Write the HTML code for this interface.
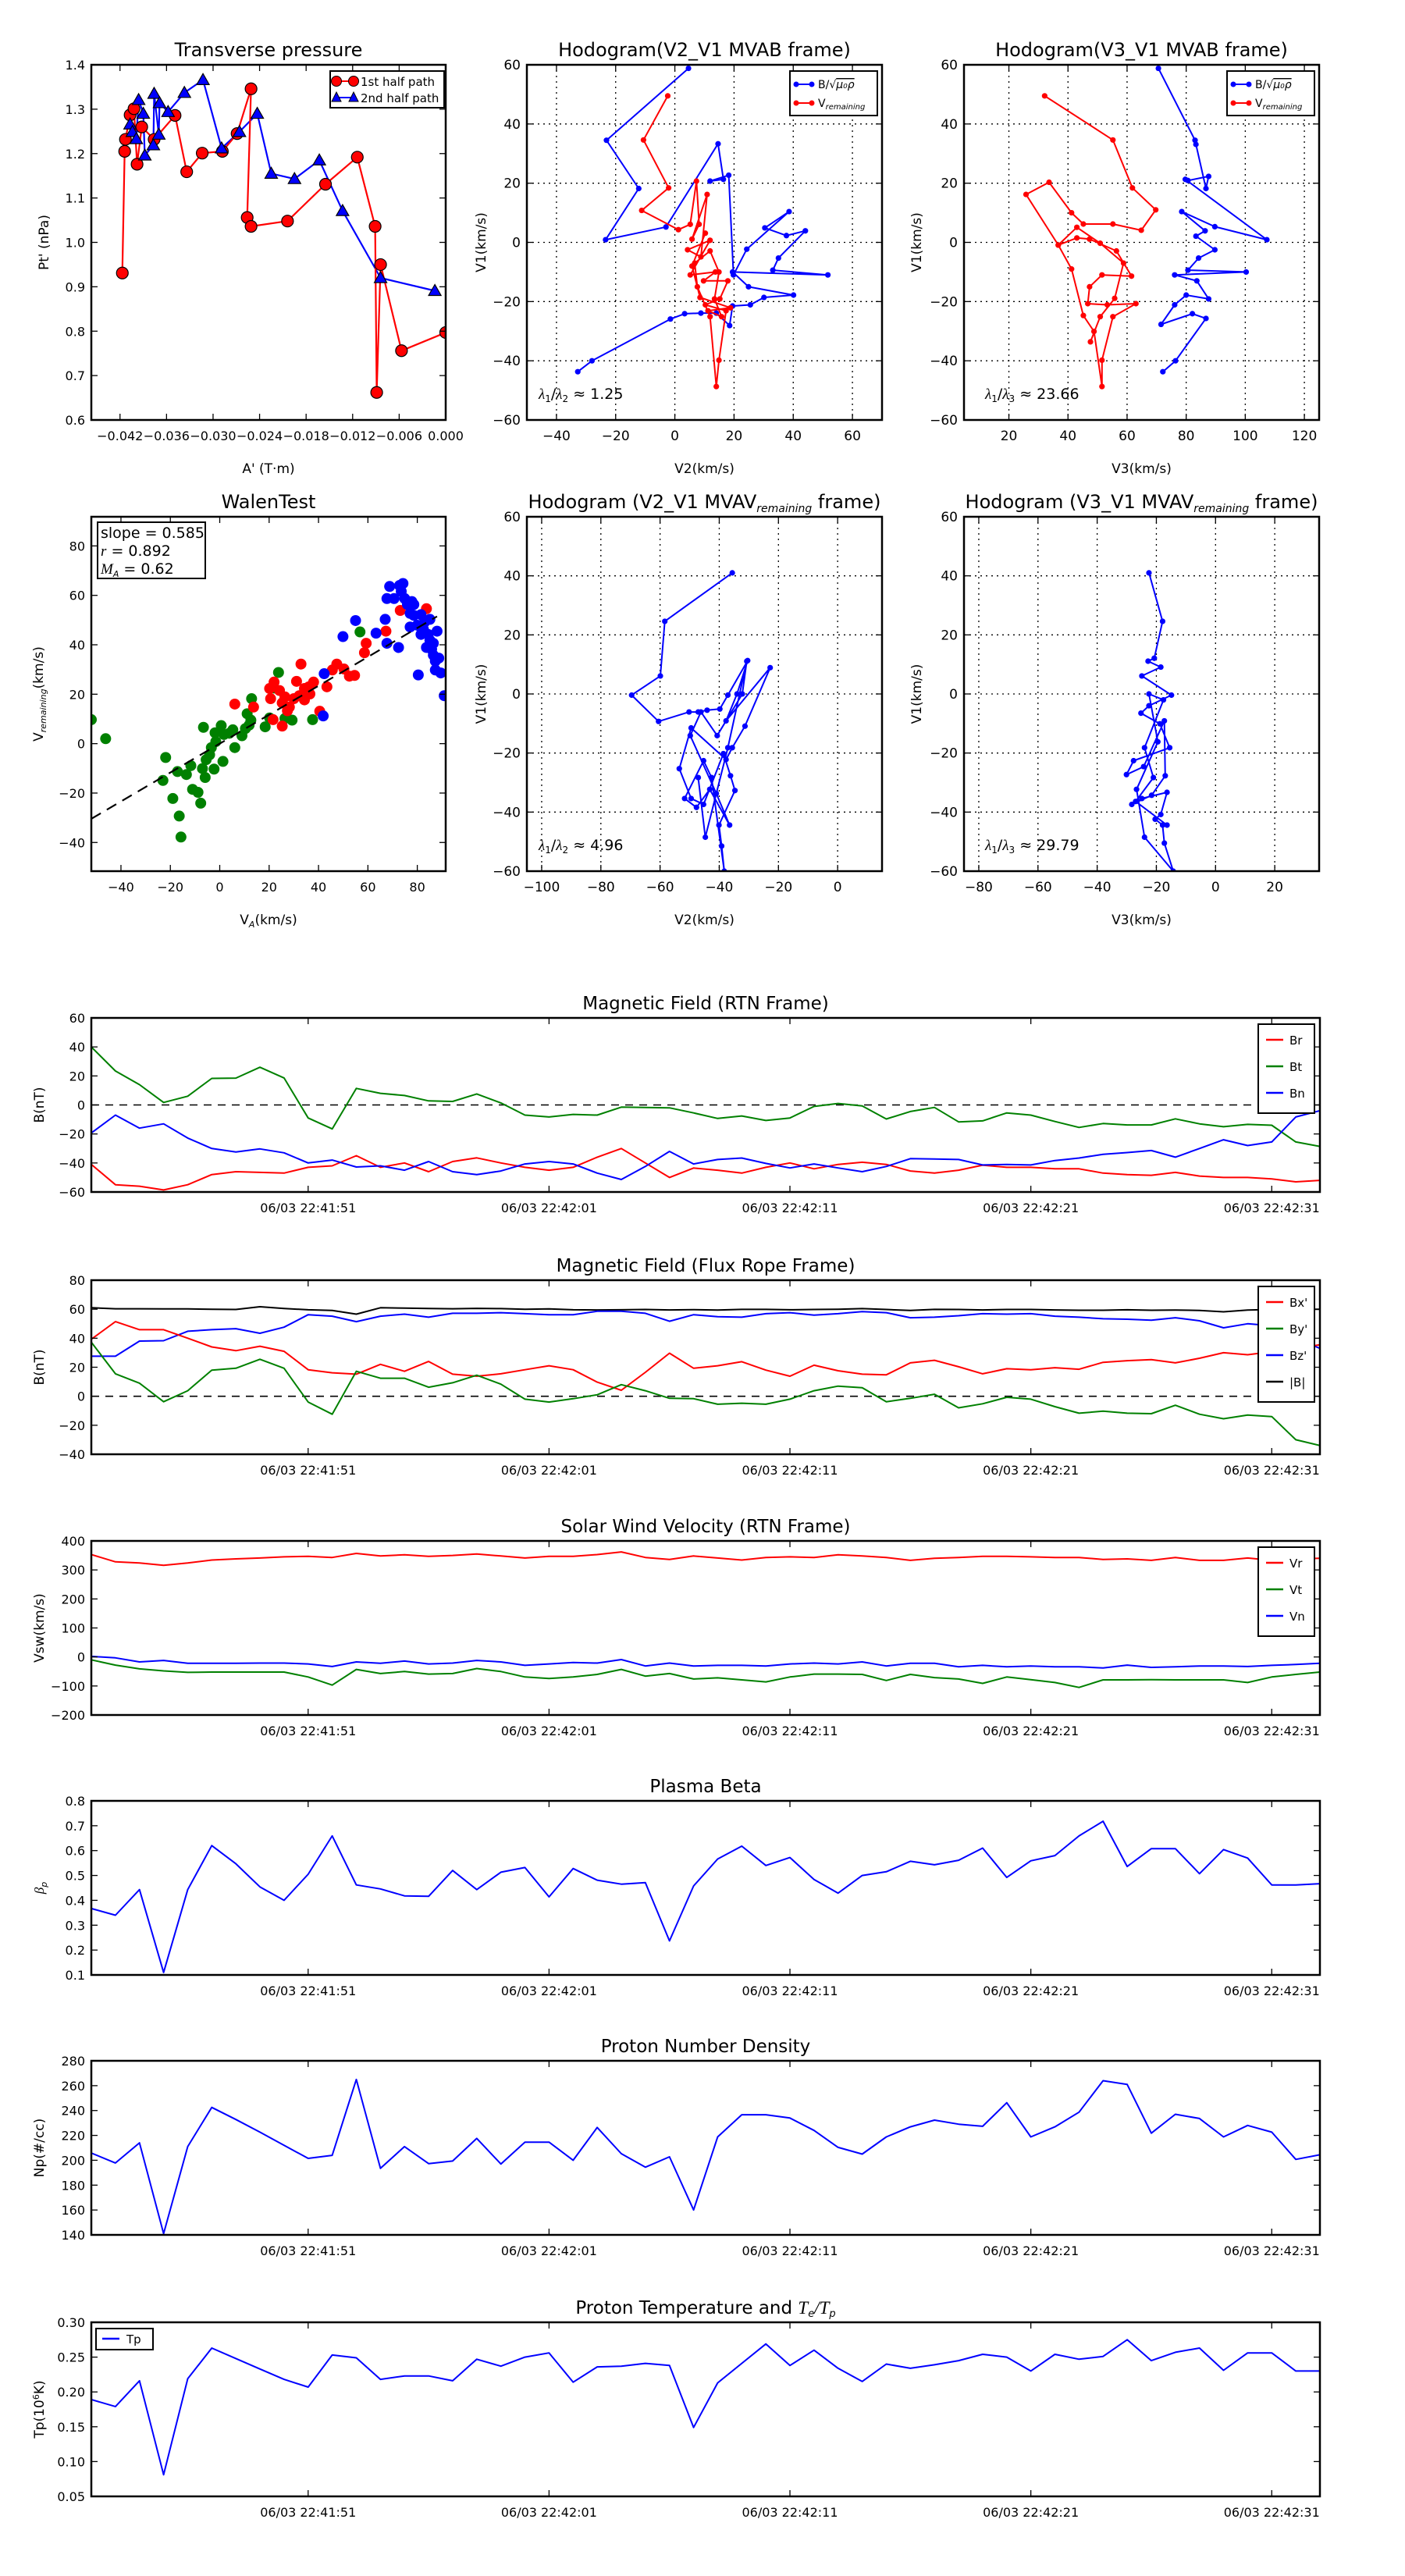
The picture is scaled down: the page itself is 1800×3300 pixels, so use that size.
<!DOCTYPE html>
<html><head><meta charset="utf-8"><title>Flux rope analysis</title>
<style>
html,body{margin:0;padding:0;background:#fff;}
svg{display:block;font-family:"DejaVu Sans","Liberation Sans",sans-serif;}
text{fill:#000;}
</style></head>
<body>
<svg id="fig" xmlns="http://www.w3.org/2000/svg" width="1800" height="3300" viewBox="0 0 1800 3300">
<rect x="0" y="0" width="1800" height="3300" fill="#fff"/>
</svg>
<script>
// ---------- Transverse pressure ----------
const ptRedA=[-0.0417,-0.0414,-0.0413,-0.0407,-0.0402,-0.0398,-0.0392,-0.0376,-0.0349,-0.0334,-0.0314,-0.0288,-0.0269,-0.0251,-0.0256,-0.0251,-0.0204,-0.0155,-0.0114,-0.0091,-0.0089,-0.0084,-0.0057,0.0000];
const ptRedP=[0.931,1.205,1.232,1.287,1.301,1.176,1.260,1.232,1.286,1.159,1.201,1.205,1.245,1.346,1.056,1.036,1.048,1.131,1.192,1.036,0.662,0.950,0.756,0.797];
const ptBlueA=[-0.0407,-0.0404,-0.0399,-0.0396,-0.0390,-0.0388,-0.0377,-0.0376,-0.0370,-0.0369,-0.0358,-0.0337,-0.0313,-0.0289,-0.0266,-0.0243,-0.0225,-0.0195,-0.0163,-0.0133,-0.0084,-0.0014];
const ptBlueP=[1.266,1.249,1.233,1.321,1.290,1.196,1.219,1.335,1.243,1.314,1.294,1.337,1.366,1.212,1.249,1.290,1.155,1.143,1.185,1.071,0.920,0.891];
const ptXTicks=[-0.042,-0.036,-0.030,-0.024,-0.018,-0.012,-0.006,0.000];
const ptYTicks=[0.6,0.7,0.8,0.9,1.0,1.1,1.2,1.3,1.4];
// ---------- Hodogram V2_V1 MVAB ----------
const h1BlueX=[4.6,-23.1,-12.2,-23.4,-3,14.6,16.4,11.9,18.2,19.8,24.3,38.6,30.4,37.7,44.1,35,33.1,51.7,19.5,24.9,40.1,30.1,25.5,19.5,18.5,14,8.8,3.3,-1.5,-28,-32.8];
const h1BlueY=[58.8,34.5,18.2,0.9,5.2,33.3,21.3,20.7,22.7,-11,-2.3,10.4,4.9,2.3,3.9,-5.3,-9.4,-11,-10,-15,-17.8,-18.6,-21.1,-21.5,-28.1,-23.9,-23.9,-24.1,-25.9,-40,-43.7];
const h1RedX=[-2.4,-10.6,-2.1,-11.2,1.2,5.2,7.3,8.2,5.8,10.9,8.8,4.3,11.9,5.2,13.7,9.7,17.9,15.2,10.3,17.3,14.9,14,11.9,7.6,6.7,11.9,14.9,13.4,15.8,11.2,18.8,8.5,5.8,10.3];
const h1RedY=[49.5,34.6,18.4,10.8,4.3,6.1,20.7,6.1,1.1,16.2,-4.9,-2.5,0.7,-11,-10,-13,-13,-19.1,-21.1,-23.1,-39.8,-48.7,-25.1,-15,-7,-2.9,-10,-19.1,-25.1,-23.1,-22.1,-18.6,-8,3.1];
// ---------- Hodogram V3_V1 MVAB ----------
const h2BlueX=[70.6,83,83.3,86.7,87.6,80.6,79.7,107.3,89.7,78.5,86.4,83.3,89.7,84.2,80.6,100.3,76.1,83.6,87.6,80,76.1,71.5,82.1,86.7,76.4,72.1];
const h2BlueY=[58.8,34.5,33.1,18.2,22.3,20.9,21.3,0.9,5.3,10.4,3.9,2.1,-2.5,-5.3,-9.4,-10,-11,-13,-19.1,-17.8,-21.1,-27.7,-24.1,-25.7,-40,-43.7];
const h2RedX=[32.1,55.2,61.8,69.7,64.8,55.2,45.2,41.2,33.6,25.8,36.7,43,47.3,56.4,61.5,51.5,47.3,46.7,53.3,63,55.2,51.5,51.5,48.8,45.2,41.2,36.7,43,50.9,58.8,55.8,50.9,47.6];
const h2RedY=[49.5,34.6,18.4,11,4.1,6.2,6.2,10,20.3,16.2,-0.9,1.5,1.1,-2.9,-11.4,-11,-15,-20.7,-21.1,-20.7,-25.1,-39.8,-48.7,-30.1,-24.7,-9,-0.9,5.1,-0.3,-7,-18.9,-25.1,-33.6];
// ---------- Walen test ----------
const walGreenX=[-52,-46.2,-21.9,-23,-19,-16.4,-15.7,-17.1,-13.5,-11.7,-11,-8.8,-7.7,-7,-5.9,-5.5,-4.1,-3.4,-2.3,-1.6,-1.9,1.3,1.7,3.9,6.1,5.3,9,10.4,11.1,12.9,11.9,12.6,18.4,20.2,23.8,26.4,29.3,37.6,22,56.8,-6.6,0.6];
const walGreenY=[9.7,2,-5.6,-14.9,-22.2,-29.3,-37.8,-11.3,-12.5,-8.9,-18.5,-19.7,-24.1,-10.1,-13.7,-6.5,-4.5,-1.6,-10.3,0.8,4.4,-7.2,3.7,4.2,-1.6,5.6,3.2,6.1,12.1,18.2,7.5,9.5,6.8,10.4,28.8,10.2,9.5,9.7,22.5,45.2,6.6,7.3];
const walRedX=[6.1,13.7,20.2,20.6,22,24.2,25.3,26.4,27.4,28.2,30,31.1,32.2,32.9,34.3,36.1,38,40.5,43.4,45.6,47.4,50.3,52.5,54.6,58.6,59.3,67.3,73.1,83.7,21.6,25.3,34.3,36.5];
const walRedY=[16,14.8,22.3,18.2,24.9,21.5,16.5,18.9,13.3,14.8,18.2,25.2,19.4,32.2,22.3,23,24.9,13.1,23,29.8,32.2,30.2,27.3,27.6,36.8,40.6,45.5,53.9,54.6,9.7,7.1,17.7,20.1];
const walBlueX=[42.3,41.9,49.9,55,63.3,67,67.7,72.4,72.8,73.5,74.9,76,77.1,77.8,78.6,80,81.5,82.5,84.4,85.1,85.8,86.5,87.3,88,88.7,89.5,87.3,80.4,90.9,77.1,70.6,67.7,78.6,81.5,82.9,85.1,68.8,74.2,83.7,86.5];
const walBlueY=[28.3,11.2,43.3,49.8,44.7,50.3,40.6,38.9,64,61.6,58.7,56.3,52.7,57.5,51.9,47.9,44.2,46.2,44.2,41.8,38.2,35.8,33.4,45.5,34.6,28.6,29.8,27.8,19.4,47.2,58.7,58.7,56.3,52.2,49.1,50.3,63.6,64.8,38.9,40.6];
const walFit=[0.585,0.0];
const walFitRange=[-52,88];
// ---------- Hodogram V2_V1 MVAV ----------
const h3X=[-35.6,-58.4,-59.9,-69.6,-60.5,-50.2,-47.1,-44.1,-39.8,-37.1,-30.4,-34,-37.7,-22.8,-31.3,-35.6,-37.7,-49.5,-53.5,-49.5,-45.3,-38.6,-36.2,-34.7,-40.1,-39.2,-38.3,-42.6,-45.3,-51.7,-47.7,-43.2,-36.5,-41,-49.8,-46.2,-40.7,-32.2,-30.7,-37.1,-44.7,-47.1];
const h3Y=[41,24.6,6.1,-0.4,-9.3,-6.1,-6.1,-5.5,-5.1,-0.4,11.3,0,-9.1,8.9,-10.9,-18.2,-22.2,-11.5,-25.3,-35.4,-37.4,-20.2,-27.7,-32.7,-44.4,-51.5,-60,-28.3,-22.6,-35.4,-38.4,-32.3,-44.4,-33.7,-14.1,-6.1,-14.1,0,11.1,-18.2,-48.5,-28.3];
// ---------- Hodogram V3_V1 MVAV ----------
const h4X=[-22.5,-17.9,-20.7,-22.8,-18.5,-24.9,-14.9,-22.5,-25.2,-18.8,-15.5,-27.7,-30.1,-24.3,-17.3,-17,-21.6,-28.3,-24.9,-16.4,-18.5,-20.4,-17.9,-17.3,-14.3,-24,-26.7,-19.5,-22.5,-17.6,-24,-21,-27,-16.4];
const h4Y=[41,24.6,12.1,11.1,9.1,6.1,-0.4,-4,-6.5,-10.1,-18.2,-22.6,-27.3,-24.6,-9.1,-27.7,-34.3,-37.4,-35.4,-33.3,-40.8,-42.4,-44.4,-50.5,-60,-48.5,-32.3,-16.2,0,-2,-18.2,-28.3,-36.4,-44.4];
// ---------- Time series ----------
const tsTime=[0,1,2,3,4,5,6,7,8,9,10,11,12,13,14,15,16,17,18,19,20,21,22,23,24,25,26,27,28,29,30,31,32,33,34,35,36,37,38,39,40,41,42,43,44,45,46,47,48,49,50,51];
const tsTickTimes=[9,19,29,39,49];
const tsTickLabels=["06/03 22:41:51","06/03 22:42:01","06/03 22:42:11","06/03 22:42:21","06/03 22:42:31"];
const Br=[-41,-55,-56,-58.6,-55,-48,-46,-46.5,-47,-43,-42,-35,-43,-40,-46,-39,-36.5,-40,-43,-45,-43,-36,-30,-40,-50,-43.5,-45,-47,-43,-40,-44,-41,-39.5,-41,-45.5,-47,-45,-41.5,-43,-43,-44,-44,-47,-48,-48.5,-46.5,-49,-50,-50,-51,-53,-52];
const Bt=[40,23.4,14,1.7,6,18.3,18.5,26,18.6,-9,-16.5,11.4,8,6.5,2.8,2.4,7.6,1.4,-7,-8.3,-6.5,-7,-1.5,-1.7,-2,-5.5,-9.3,-7.6,-10.7,-9,-1,1,-0.7,-9.7,-4.5,-1.7,-11.7,-11,-5.5,-7,-11.4,-15.5,-12.8,-13.8,-13.8,-9.6,-13,-15,-13.4,-14,-25.5,-28.6];
const Bn=[-19.3,-7,-16,-13,-22.8,-30,-32.4,-30.3,-33,-40,-38,-42.8,-42,-45,-39,-46,-48,-45.5,-40.7,-39,-40.7,-47,-51.4,-42.4,-32,-40.7,-37.6,-36.6,-40.3,-43.4,-40.7,-43.4,-46,-42.4,-37,-37.3,-37.6,-41.4,-41,-41.4,-38.3,-36.6,-34,-32.8,-31.4,-36,-30,-24,-28,-25.5,-8.3,-4];
const Bxp=[39.3,51.4,45.9,45.9,40,34,31.4,34.5,31,18.3,16.2,15.2,22,17.2,24,15.2,13.8,15.5,18.3,21,18.3,9.7,4.1,16.5,29.7,19.3,21,23.8,18,13.8,21.4,17.6,15.2,14.8,23,24.8,20.3,15.5,19,18.3,19.7,18.6,23.4,24.5,25.2,23,26.2,30,28.6,30.7,33,35.5];
const Byp=[37.2,15.5,9,-3.8,3.8,18,19.3,25.5,19.3,-4,-12.4,17.2,12.4,12.4,6.2,9.3,14.5,8.3,-2,-4,-1.7,1,8,3.8,-1.4,-1.7,-5.5,-4.8,-5.5,-2,3.8,7,5.9,-3.8,-1.4,1.4,-8,-5.2,-0.7,-2,-7.2,-11.7,-10.3,-11.7,-12,-6.2,-12.4,-15.5,-13,-14,-30,-34];
const Bzp=[27.6,27.6,38,38.3,44.8,45.9,46.6,43.4,47.6,56.2,55.2,51.4,55.2,56.6,54.5,57.2,57.2,57.6,56.9,56.2,56.2,58.6,58.6,57.2,51.7,56.2,54.8,54.5,56.9,57.6,55.9,56.9,58.3,57.6,54.1,54.5,55.5,56.9,56.6,56.9,55.2,54.5,53.4,53.1,52.4,54.1,52,47.2,50,48.6,40,33];
const Bmag=[61,60.3,60.3,60.2,60.2,60,59.8,61.7,60.5,59.6,59.2,56.6,61,60.8,60.5,60.3,60.6,60.4,60,60.2,59.6,59.5,59.6,59.8,59.5,59.7,59.4,59.9,59.9,59.6,59.8,60,60.4,59.8,59.1,59.9,59.8,59.5,59.8,59.8,59.5,59.3,59.3,59.6,59.3,59.4,59.2,58.2,59.4,59.8,60,60];
const Vr=[353,328,324,316,324,334,338,341,345,347,343,357,348,352,347,350,355,348,341,347,347,353,362,343,336,348,341,334,343,345,343,352,348,343,333,340,343,347,347,345,343,343,336,338,333,343,333,333,341,333,338,340];
const Vt=[-10,-28,-41,-48,-53,-52,-52,-52,-52,-69,-97,-43,-57,-50,-59,-57,-40,-50,-69,-74,-69,-60,-43,-66,-57,-76,-72,-79,-86,-69,-59,-59,-60,-81,-60,-71,-76,-91,-69,-78,-88,-105,-79,-79,-78,-79,-79,-79,-88,-69,-60,-52];
const Vn=[2,-3,-17,-12,-22,-22,-22,-21,-21,-24,-33,-17,-22,-14,-24,-21,-12,-17,-29,-24,-19,-21,-9,-31,-21,-31,-29,-29,-31,-24,-21,-24,-17,-31,-22,-22,-34,-29,-34,-31,-34,-34,-38,-28,-36,-34,-31,-31,-33,-29,-26,-22];
const betaP=[0.367,0.34,0.443,0.11,0.443,0.62,0.547,0.454,0.40,0.505,0.659,0.462,0.446,0.418,0.416,0.52,0.443,0.513,0.532,0.414,0.528,0.481,0.465,0.471,0.237,0.458,0.566,0.618,0.54,0.572,0.484,0.429,0.50,0.515,0.557,0.543,0.561,0.61,0.492,0.559,0.58,0.659,0.718,0.536,0.608,0.608,0.507,0.604,0.57,0.462,0.462,0.467];
const Np=[205.8,197.8,214,141,211,242.5,232.8,222.6,212,201.5,204,265,193.5,211,197.3,199.4,217.6,197,214.6,214.6,200,226.4,205.3,194.4,202.8,160,218.8,236.6,236.6,234,224,210.4,205,218.8,226.9,232.3,229,227.3,246.3,218.8,226.9,238.7,264,261,221.8,237,233.6,218.8,228,222.6,200.7,204.5];
const Tp=[0.189,0.179,0.216,0.081,0.219,0.263,0.248,0.233,0.218,0.207,0.253,0.249,0.218,0.223,0.223,0.216,0.247,0.237,0.250,0.256,0.214,0.236,0.237,0.241,0.238,0.149,0.213,0.241,0.269,0.238,0.260,0.234,0.215,0.240,0.234,0.239,0.245,0.254,0.250,0.230,0.254,0.247,0.251,0.275,0.245,0.257,0.263,0.231,0.256,0.256,0.230,0.230];

const NS='http://www.w3.org/2000/svg';
const svg=document.getElementById('fig');
function mk(tag,attrs,parent){const e=document.createElementNS(NS,tag);for(const k in attrs)e.setAttribute(k,attrs[k]);(parent||svg).appendChild(e);return e;}
function txt(s,x,y,size,anchor,parent){const t=mk('text',{x:x,y:y,'font-size':size,'text-anchor':anchor||'middle'},parent);t.textContent=s;return t;}
function fmtMinus(s){return String(s).replace('-','\u2212');}
let clipN=0;

function axes(c){
  const g=mk('g',{});
  
  
  const sx=v=>c.x0+(v-c.xmin)/(c.xmax-c.xmin)*(c.x1-c.x0);
  const sy=v=>c.y1-(v-c.ymin)/(c.ymax-c.ymin)*(c.y1-c.y0);
  const id='clip'+(clipN++);
  const cp=mk('clipPath',{id:id},g);
  mk('rect',{x:c.x0,y:c.y0,width:c.x1-c.x0,height:c.y1-c.y0},cp);
  // grid
  if(c.grid){
    c.xticks.forEach(v=>{const l=mk('line',{x1:sx(v),x2:sx(v),y1:c.y0,y2:c.y1,stroke:'#000','stroke-width':1.3,'stroke-dasharray':'2,5'},g);
      
      });
    c.yticks.forEach(v=>{const l=mk('line',{x1:c.x0,x2:c.x1,y1:sy(v),y2:sy(v),stroke:'#000','stroke-width':1.3,'stroke-dasharray':'2,5'},g);
      
      });
  }
  const plot=mk('g',{'clip-path':'url(#'+id+')'},g);
  
  
  // ticks
  const tg=mk('g',{stroke:'#000','stroke-width':1.3},g);
  c.xticks.forEach((v,i)=>{
    const x=sx(v);
    mk('line',{x1:x,x2:x,y1:c.y1,y2:c.y1-8},tg);mk('line',{x1:x,x2:x,y1:c.y0,y2:c.y0+8},tg);
    const t=txt(c.xlabels[i],x,c.y1+26,c.tickSize||17,'middle',g);
    
    
  });
  c.yticks.forEach((v,i)=>{
    const y=sy(v);
    mk('line',{x1:c.x0,x2:c.x0+8,y1:y,y2:y},tg);mk('line',{x1:c.x1,x2:c.x1-8,y1:y,y2:y},tg);
    const t=txt(c.ylabels[i],c.x0-8,y+6,c.tickSize||17,'end',g);
    
    
  });
  const fr=mk('rect',{x:c.x0,y:c.y0,width:c.x1-c.x0,height:c.y1-c.y0,fill:'none',stroke:'#000','stroke-width':2.5},g);
  
  
  const ti=txt('',(c.x0+c.x1)/2,c.y0-11,c.titleSize||24,'middle',g);
  ti.innerHTML=c.title;
  
  
  if(c.xtitle){const t=txt('',(c.x0+c.x1)/2,c.y1+68,17,'middle',g);t.innerHTML=c.xtitle;
    
    }
  if(c.ytitle){const yx=c.ytx, yy=(c.y0+c.y1)/2;const t=txt('',yx,yy,17,'middle',g);t.innerHTML=c.ytitle;t.setAttribute('transform','rotate(-90 '+yx+' '+yy+')');
    
    }
  return {sx,sy,g,plot};
}
function pathD(ax,xs,ys){return xs.map((x,i)=>(i?'L':'M')+ax.sx(x).toFixed(1)+','+ax.sy(ys[i]).toFixed(1)).join('');}
function line(ax,xs,ys,color,w,name){const p=mk('path',{d:pathD(ax,xs,ys),fill:'none',stroke:color,'stroke-width':w||2,'stroke-linejoin':'round'},ax.plot);
  
  return p;}
function dots(ax,xs,ys,color,r,name,stroke){const g=mk('g',{fill:color},ax.plot);
  
  
  xs.forEach((x,i)=>{const c=mk('circle',{cx:ax.sx(x),cy:ax.sy(ys[i]),r:r},g);if(stroke){c.setAttribute('stroke',stroke);c.setAttribute('stroke-width',1.2);}
    
    });return g;}
function tris(ax,xs,ys,color,s,name){const g=mk('g',{fill:color,stroke:'#000','stroke-width':1.2},ax.plot);
  
  
  xs.forEach((x,i)=>{const cx=ax.sx(x),cy=ax.sy(ys[i]);const p=mk('polygon',{points:`${cx},${cy-s} ${cx-s},${cy+s*0.75} ${cx+s},${cy+s*0.75}`},g);
    
    });return g;}
function legendBox(x,y,w,h,name){const r=mk('rect',{x:x,y:y,width:w,height:h,fill:'#fff',stroke:'#000','stroke-width':2});
  
  return r;}
const fmt=(v,d)=>fmtMinus(v.toFixed(d));
const seq=(a,b,s)=>{const r=[];for(let v=a;v<=b+1e-9;v+=s)r.push(+v.toFixed(6));return r;};

// ---- Plot 1: transverse pressure
{
const ax=axes({name:'transverse-pressure-chart',x0:117,x1:571,y0:83,y1:538,xmin:-0.0457,xmax:0,ymin:0.6,ymax:1.4,
  xticks:ptXTicks,xlabels:ptXTicks.map(v=>fmt(v,3)),yticks:ptYTicks,ylabels:ptYTicks.map(v=>v.toFixed(1)),
  title:'Transverse pressure',xtitle:"A' (T·m)",ytitle:"Pt' (nPa)",ytx:62,tickSize:16});
line(ax,ptBlueA,ptBlueP,'#0000ff',2.2,'second-half-path-line');
line(ax,ptRedA,ptRedP,'#ff0000',2.2,'first-half-path-line');
dots(ax,ptRedA,ptRedP,'#ff0000',7.5,'first-half-path-markers','#000');
tris(ax,ptBlueA,ptBlueP,'#0000ff',8,'second-half-path-markers');
legendBox(423,91,146,47,'pressure-legend');
mk('line',{x1:431,x2:453,y1:104,y2:104,stroke:'#ff0000','stroke-width':2});
mk('circle',{cx:431,cy:104,r:6.5,fill:'#f00',stroke:'#000'});mk('circle',{cx:453,cy:104,r:6.5,fill:'#f00',stroke:'#000'});
let t=txt('1st half path',462,110,15,'start');

mk('line',{x1:431,x2:453,y1:125,y2:125,stroke:'#0000ff','stroke-width':2});
mk('polygon',{points:'431,118 425,130 437,130',fill:'#00f',stroke:'#000'});mk('polygon',{points:'453,118 447,130 459,130',fill:'#00f',stroke:'#000'});
t=txt('2nd half path',462,131,15,'start');

}
function hodoLegend(x,name){
  legendBox(x,91,112,57,name);
  mk('line',{x1:x+8,x2:x+28,y1:108,y2:108,stroke:'#00f','stroke-width':2});mk('circle',{cx:x+8,cy:108,r:3.5,fill:'#00f'});mk('circle',{cx:x+28,cy:108,r:3.5,fill:'#00f'});
  let t=txt('',x+36,113,14,'start');t.innerHTML='B/√<tspan font-style="italic" text-decoration="overline">μ₀ρ</tspan>';
  
  
  mk('line',{x1:x+8,x2:x+28,y1:132,y2:132,stroke:'#f00','stroke-width':2});mk('circle',{cx:x+8,cy:132,r:3.5,fill:'#f00'});mk('circle',{cx:x+28,cy:132,r:3.5,fill:'#f00'});
  t=txt('',x+36,137,14,'start');t.innerHTML='V<tspan font-size="10" font-style="italic" dy="3">remaining</tspan>';
  
  
}
function lambdaText(x,y,sub,val,name){const t=txt('',x,y,19,'start');t.innerHTML='<tspan font-style="italic" font-family="Liberation Serif,serif">λ</tspan><tspan font-size="12" dy="4">1</tspan><tspan dy="-4">/</tspan><tspan font-style="italic" font-family="Liberation Serif,serif">λ</tspan><tspan font-size="12" dy="4">'+sub+'</tspan><tspan dy="-4"> ≈ '+val+'</tspan>';
  
  }
const v60=seq(-60,60,20);
// ---- Plot 2
{
const xt=seq(-40,60,20);
const ax=axes({name:'hodogram-v2-v1-mvab',x0:675,x1:1130,y0:83,y1:538,xmin:-50,xmax:70,ymin:-60,ymax:60,grid:true,
  xticks:xt,xlabels:xt.map(v=>fmt(v,0)),yticks:v60,ylabels:v60.map(v=>fmt(v,0)),
  title:'Hodogram(V2_V1 MVAB frame)',xtitle:'V2(km/s)',ytitle:'V1(km/s)',ytx:622});
line(ax,h1BlueX,h1BlueY,'#0000ff',2,'b-field-hodogram-line');dots(ax,h1BlueX,h1BlueY,'#0000ff',3.6,'b-field-hodogram-markers');
line(ax,h1RedX,h1RedY,'#ff0000',2,'v-remaining-hodogram-line');dots(ax,h1RedX,h1RedY,'#ff0000',3.6,'v-remaining-hodogram-markers');
hodoLegend(1012,'hodogram-v2-legend');
lambdaText(690,511,'2','1.25','eigenvalue-ratio-label');
}
// ---- Plot 3
{
const xt=seq(20,120,20);
const ax=axes({name:'hodogram-v3-v1-mvab',x0:1235,x1:1690,y0:83,y1:538,xmin:4.8,xmax:125,ymin:-60,ymax:60,grid:true,
  xticks:xt,xlabels:xt.map(v=>fmt(v,0)),yticks:v60,ylabels:v60.map(v=>fmt(v,0)),
  title:'Hodogram(V3_V1 MVAB frame)',xtitle:'V3(km/s)',ytitle:'V1(km/s)',ytx:1180});
line(ax,h2BlueX,h2BlueY,'#0000ff',2,'b-field-hodogram-line');dots(ax,h2BlueX,h2BlueY,'#0000ff',3.6,'b-field-hodogram-markers');
line(ax,h2RedX,h2RedY,'#ff0000',2,'v-remaining-hodogram-line');dots(ax,h2RedX,h2RedY,'#ff0000',3.6,'v-remaining-hodogram-markers');
hodoLegend(1572,'hodogram-v3-legend');
lambdaText(1262,511,'3','23.66','eigenvalue-ratio-label');
}
// ---- Walen test
{
const xt=seq(-40,80,20),yt=seq(-40,80,20);
const ax=axes({name:'walen-test-chart',x0:117,x1:571,y0:662,y1:1116,xmin:-52,xmax:91.5,ymin:-51.6,ymax:91.8,
  xticks:xt,xlabels:xt.map(v=>fmt(v,0)),yticks:yt,ylabels:yt.map(v=>fmt(v,0)),
  title:'WalenTest',xtitle:'V<tspan font-size="11" font-style="italic" dy="4">A</tspan><tspan dy="-4">(km/s)</tspan>',ytitle:'V<tspan font-size="11" font-style="italic" dy="4">remaining</tspan><tspan dy="-4">(km/s)</tspan>',ytx:55,tickSize:16});
dots(ax,walGreenX,walGreenY,'#008000',7,'walen-green-points');
dots(ax,walRedX,walRedY,'#ff0000',7,'walen-red-points');
dots(ax,walBlueX,walBlueY,'#0000ff',7,'walen-blue-points');
const fx=walFitRange,fy=fx.map(x=>walFit[0]*x+walFit[1]);
const l=line(ax,fx,fy,'#000',2.2,'regression-line');l.setAttribute('stroke-dasharray','14,9');
legendBox(125,669,138,72,'walen-stats-box');
let t=txt('slope = 0.585',129,689,19,'start');

t=txt('',129,712,19,'start');t.innerHTML='<tspan font-style="italic" font-family="Liberation Serif,serif">r</tspan> = 0.892';

t=txt('',129,735,19,'start');t.innerHTML='<tspan font-style="italic" font-family="Liberation Serif,serif">M</tspan><tspan font-size="11" font-style="italic" dy="4">A</tspan><tspan dy="-4"> = 0.62</tspan>';

}
// ---- Hodogram V2_V1 MVAV
{
const xt=seq(-100,0,20);
const ax=axes({name:'hodogram-v2-v1-mvav',x0:675,x1:1130,y0:662,y1:1116,xmin:-105,xmax:15,ymin:-60,ymax:60,grid:true,
  xticks:xt,xlabels:xt.map(v=>fmt(v,0)),yticks:v60,ylabels:v60.map(v=>fmt(v,0)),
  title:'Hodogram (V2_V1 MVAV<tspan font-size="14" font-style="italic" dy="5">remaining</tspan><tspan dy="-5"> frame)</tspan>',xtitle:'V2(km/s)',ytitle:'V1(km/s)',ytx:622});
line(ax,h3X,h3Y,'#0000ff',2,'b-field-hodogram-line');dots(ax,h3X,h3Y,'#0000ff',3.6,'b-field-hodogram-markers');
lambdaText(690,1089,'2','4.96','eigenvalue-ratio-label');
}
// ---- Hodogram V3_V1 MVAV
{
const xt=seq(-80,20,20);
const ax=axes({name:'hodogram-v3-v1-mvav',x0:1235,x1:1690,y0:662,y1:1116,xmin:-85,xmax:35,ymin:-60,ymax:60,grid:true,
  xticks:xt,xlabels:xt.map(v=>fmt(v,0)),yticks:v60,ylabels:v60.map(v=>fmt(v,0)),
  title:'Hodogram (V3_V1 MVAV<tspan font-size="14" font-style="italic" dy="5">remaining</tspan><tspan dy="-5"> frame)</tspan>',xtitle:'V3(km/s)',ytitle:'V1(km/s)',ytx:1180});
line(ax,h4X,h4Y,'#0000ff',2,'b-field-hodogram-line');dots(ax,h4X,h4Y,'#0000ff',3.6,'b-field-hodogram-markers');
lambdaText(1262,1089,'3','29.79','eigenvalue-ratio-label');
}
// ---- Time series
function ts(c){
  const ax=axes({name:c.name,x0:117,x1:1691,y0:c.y0,y1:c.y0+223,xmin:0,xmax:51,ymin:c.ymin,ymax:c.ymax,
    xticks:tsTickTimes,xlabels:tsTickLabels,yticks:c.yt,ylabels:c.yt.map(v=>fmt(v,c.dec)),
    title:c.title,ytitle:c.ytitle,ytx:56,tickSize:16,titleSize:23});
  if(c.zero){const z=line(ax,[0,51],[0,0],'#000',1.6,'zero-reference-line');z.setAttribute('stroke-dasharray','10,8');}
  c.series.forEach(s=>line(ax,tsTime,s[0],s[1],2,s[2]));
  if(c.legend){
    const lx=1612,ly=c.y0+8,h=c.legend.length*34+12;
    legendBox(lx,ly,72,h,c.name+'-legend');
    c.legend.forEach((e,i)=>{const y=ly+20+i*34;mk('line',{x1:lx+10,x2:lx+32,y1:y,y2:y,stroke:e[1],'stroke-width':2.5});
      const t=txt(e[0],lx+40,y+6,15,'start');
      });
  }
  return ax;
}
ts({name:'magnetic-field-rtn-chart',y0:1304,ymin:-60,ymax:60,yt:seq(-60,60,20),dec:0,title:'Magnetic Field (RTN Frame)',ytitle:'B(nT)',zero:true,
  series:[[Br,'#ff0000','br-line'],[Bt,'#008000','bt-line'],[Bn,'#0000ff','bn-line']],legend:[['Br','#f00','br'],['Bt','#008000','bt'],['Bn','#00f','bn']]});
ts({name:'magnetic-field-flux-rope-chart',y0:1640,ymin:-40,ymax:80,yt:seq(-40,80,20),dec:0,title:'Magnetic Field (Flux Rope Frame)',ytitle:'B(nT)',zero:true,
  series:[[Bmag,'#000000','bmag-line'],[Bzp,'#0000ff','bz-prime-line'],[Bxp,'#ff0000','bx-prime-line'],[Byp,'#008000','by-prime-line']],
  legend:[["Bx'",'#f00','bx'],["By'",'#008000','by'],["Bz'",'#00f','bz'],['|B|','#000','bmag']]});
ts({name:'solar-wind-velocity-chart',y0:1974,ymin:-200,ymax:400,yt:seq(-200,400,100),dec:0,title:'Solar Wind Velocity (RTN Frame)',ytitle:'Vsw(km/s)',
  series:[[Vr,'#ff0000','vr-line'],[Vt,'#008000','vt-line'],[Vn,'#0000ff','vn-line']],legend:[['Vr','#f00','vr'],['Vt','#008000','vt'],['Vn','#00f','vn']]});
ts({name:'plasma-beta-chart',y0:2307,ymin:0.1,ymax:0.8,yt:seq(0.1,0.8,0.1),dec:1,title:'Plasma Beta',ytitle:'<tspan font-style="italic" font-family="Liberation Serif,serif">β</tspan><tspan font-size="11" font-style="italic" dy="4">p</tspan>',
  series:[[betaP,'#0000ff','plasma-beta-line']]});
ts({name:'proton-density-chart',y0:2640,ymin:140,ymax:280,yt:seq(140,280,20),dec:0,title:'Proton Number Density',ytitle:'Np(#/cc)',
  series:[[Np,'#0000ff','proton-density-line']]});
ts({name:'proton-temperature-chart',y0:2975,ymin:0.05,ymax:0.30,yt:seq(0.05,0.30,0.05),dec:2,title:'Proton Temperature and <tspan font-style="italic" font-family="Liberation Serif,serif">T</tspan><tspan font-size="13" font-style="italic" dy="4">e</tspan><tspan dy="-4" font-style="italic" font-family="Liberation Serif,serif">/T</tspan><tspan font-size="13" font-style="italic" dy="4">p</tspan>',ytitle:'Tp(10<tspan font-size="11" dy="-6">6</tspan><tspan dy="6">K)</tspan>',
  series:[[Tp,'#0000ff','proton-temperature-line']]});
{legendBox(123,2983,73,27,'temperature-legend');
mk('line',{x1:131,x2:153,y1:2996,y2:2996,stroke:'#00f','stroke-width':2.5});
const t=txt('Tp',162,3002,15,'start');
}
</script>
</body></html>
